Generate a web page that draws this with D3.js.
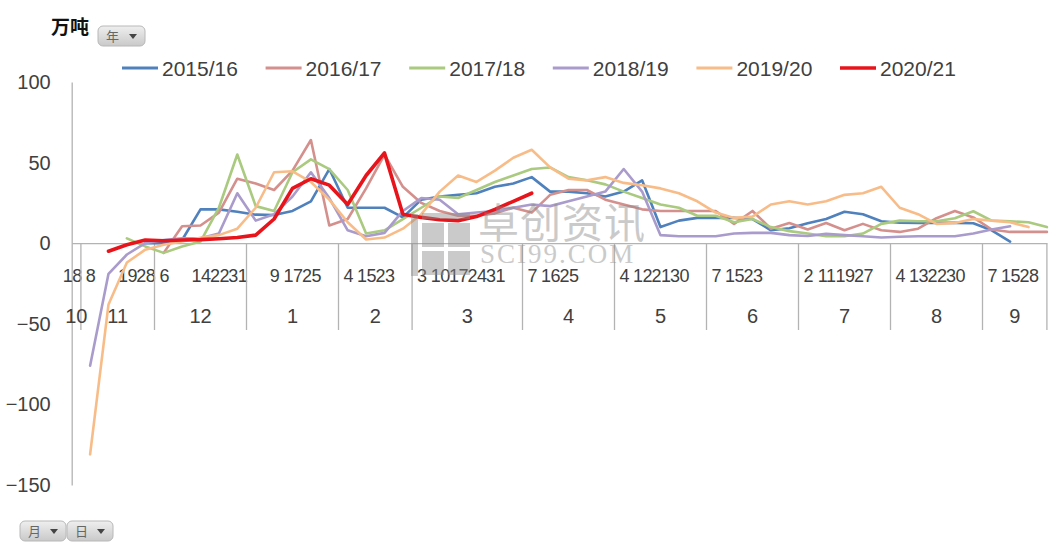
<!DOCTYPE html>
<html>
<head>
<meta charset="utf-8">
<script src="https://cdn.jsdelivr.net/npm/d3@7"></script>
<style>
body{margin:0;background:#fff;}
svg{display:block;font-family:"Liberation Sans",Arial,sans-serif;}
</style>
</head>
<body>
<div id="chart"></div>
<script>
//Set up the drawing environment here
var W = 1064, H = 543;
var plotL = 71.7, plotR = 1046.9, plotT = 82, plotB = 485;

//month groups and the day labels shown under them ('' = category with no label)
var months = ['10','11','12','1','2','3','4','5','6','7','8','9'];
var dayLabels = [
	['18'],
	['8','','19','28'],
	['6','','14','22','31'],
	['','9','17','25',''],
	['4','15','23',''],
	['3','10','17','24','31',''],
	['7','16','25','',''],
	['4','12','21','30',''],
	['7','15','23','',''],
	['2','11','19','27',''],
	['4','13','22','30',''],
	['7','15','28','']
];

var seriesNames = ['2015/16','2016/17','2017/18','2018/19','2019/20','2020/21'];
var seriesColors = ['#4f81bd','#d4908d','#a9ca7f','#a99bcb','#f8bc88','#e8141b'];
var yTicks = [-150,-100,-50,0,50,100];

//values, one per category (null = no point)
var s1516 = [null,null,null,null,0,0,2,21,21,19.5,17.7,17.5,20,26,46,22,22,22,16,27,29,30,31,35,37,41,32,32,31,29,32,39,10,14,15.7,15.7,15.7,15,8,9.3,12.4,15,19.5,18,13.6,12.7,12.6,12.6,12.6,12.4,8,1,null,null];
var s1617 = [null,null,null,null,null,-6,10.5,11,19,40,37,33,45,64,11,15,34,55,35,25,20,17,17,18.5,22,19,30,33,33,27,24,21,20,20,20,20,12,20,9,12.5,8.5,12.5,8,12,8,7,9,15.5,20,16,8.5,7,7,7];
var s1718 = [null,null,null,3,-2,-6,-2,1,22,55,23,20,44,52,46,33,6,8,15,22,29,28,33,38,42,46,47,41,39,36.5,32,28,24,22,17,17,13,15,10,7.5,6,4.3,4.3,6,12,14,13.6,13.6,15.5,19.8,14,13.6,13,10];
var s1819 = [null,-76,-19,-7,0,2,3,3,6,31,14,18,29,44,28,8,4.3,6.4,20,28,27,18,19,20,22,24,23,26,29,32,46,32,5,4.3,4.3,4.3,6,6.4,6.4,5,4.5,5.8,5,4.3,3.5,4,4.3,4.3,4.3,6,8.5,10.5,null,null];
var s1920 = [null,-131,-38,-12,-4,-1,1,3.3,5,9,22,44,44.6,38,27,13,2.3,3.5,9,18,32,42,38,45,53,58,47,40,39,41,37.4,36,34,31,26,19,15.7,16.5,24,26,24,26,30,31,35,22,18,12,12.5,15,14,13,10,null];
var s2021 = [null,null,-5,-1,2,1.5,2,2.2,2.8,3.5,5,15,34,40,36,24,42,56,18,16,14.5,14,16.5,21,26,31,null,null,null,null,null,null,null,null,null,null,null,null,null,null,null,null,null,null,null,null,null,null,null,null,null,null,null,null];
var allSeries = [s1516,s1617,s1718,s1819,s1920,s2021];

//build the category list
var cats = [];
dayLabels.forEach(function(days, mi){
	days.forEach(function(d, j){
		cats.push({key: mi+'-'+j, month: mi, day: d});
	});
});

var x = d3.scalePoint().domain(cats.map(function(c){return c.key;})).range([plotL, plotR]);
var y = d3.scaleLinear().domain([-150,100]).range([plotB, plotT]);

var svg = d3.select('#chart').append('svg')
	.attr('width', W).attr('height', H);

//y axis
var yAxis = svg.append('g')
	.attr('transform','translate('+plotL+',0)')
	.call(d3.axisLeft(y).tickValues(yTicks).tickSize(0).tickSizeOuter(0).tickPadding(21));
yAxis.select('.domain').attr('stroke','#b3b3b3').attr('stroke-width',1.3);
yAxis.selectAll('text').attr('font-size',20).attr('fill','#404040')
	.attr('font-family','"Liberation Sans",Arial,sans-serif');

//x axis with day labels
var labelOf = {};
cats.forEach(function(c){ labelOf[c.key] = c.day; });
var xAxis = svg.append('g')
	.attr('transform','translate(0,'+y(0)+')')
	.call(d3.axisBottom(x).tickSize(0).tickSizeOuter(0).tickPadding(26)
		.tickFormat(function(k){ return labelOf[k]; }));
xAxis.select('.domain').attr('stroke','#b3b3b3').attr('stroke-width',1.3);
xAxis.selectAll('text').attr('font-size',18).attr('fill','#404040')
	.attr('letter-spacing',-0.5)
	.attr('font-family','"Liberation Sans",Arial,sans-serif');

//month group dividers and month labels
var bounds = [plotL];
months.forEach(function(m, mi){
	if(mi < months.length-1){
		var lastKey = mi+'-'+(dayLabels[mi].length-1);
		var nextKey = (mi+1)+'-0';
		bounds.push((x(lastKey)+x(nextKey))/2);
	}
});
bounds.push(plotR);

svg.selectAll('.divider')
	.data(bounds.slice(1))
	.enter()
	.append('line')
	.attr('class','divider')
	.attr('x1',function(d){return d;}).attr('x2',function(d){return d;})
	.attr('y1',y(0)).attr('y2',330)
	.attr('stroke','#b3b3b3').attr('stroke-width',1.3);

svg.selectAll('.month')
	.data(months)
	.enter()
	.append('text')
	.attr('class','month')
	.attr('x',function(d,i){return (bounds[i]+bounds[i+1])/2;})
	.attr('y',323)
	.attr('text-anchor','middle')
	.attr('font-size',20)
	.attr('fill','#404040')
	.text(function(d){return d;});

//lines
var line = d3.line()
	.x(function(d){return x(d.key);})
	.y(function(d){return y(d.v);});

allSeries.forEach(function(vals, si){
	var pts = cats.map(function(c,i){ return {key:c.key, v:vals[i]}; })
		.filter(function(d){ return d.v != null; });
	svg.append('path')
		.datum(pts)
		.attr('fill','none')
		.attr('stroke',seriesColors[si])
		.attr('stroke-width', si == 5 ? 3.6 : 2.6)
		.attr('stroke-linejoin','round')
		.attr('stroke-linecap','round')
		.attr('d',line);
});

//watermark
var wm = svg.append('g').attr('opacity',0.45).attr('fill','#8c8c8c');
wm.append('rect').attr('x',411).attr('y',214).attr('width',7).attr('height',62);
wm.append('rect').attr('x',422).attr('y',213).attr('width',48).attr('height',6);
wm.append('rect').attr('x',422).attr('y',223).attr('width',22).attr('height',24);
wm.append('rect').attr('x',448).attr('y',223).attr('width',22).attr('height',24);
wm.append('rect').attr('x',422).attr('y',251).attr('width',22).attr('height',24);
wm.append('rect').attr('x',448).attr('y',251).attr('width',22).attr('height',24);
wm.append('text').attr('x',478).attr('y',238)
	.attr('font-family','"Noto Sans CJK SC",sans-serif').attr('font-size',41)
	.attr('letter-spacing',1).text('卓创资讯');
wm.append('text').attr('x',480).attr('y',263)
	.attr('font-family','"Liberation Serif","DejaVu Serif",serif').attr('font-size',27)
	.attr('letter-spacing',2).text('SCI99.COM');

//legend
var legend = svg.selectAll('.legend')
	.data(seriesNames)
	.enter()
	.append('g')
	.attr('class','legend')
	.attr('transform',function(d,i){return 'translate('+(122+i*143.6)+',68)';});
legend.append('line')
	.attr('x1',0).attr('x2',36).attr('y1',0).attr('y2',0)
	.attr('stroke',function(d,i){return seriesColors[i];})
	.attr('stroke-width',function(d,i){return i==5?3.6:2.8;});
legend.append('text')
	.attr('x',40).attr('y',7.5)
	.attr('font-size',21).attr('fill','#404040')
	.text(function(d){return d;});

//title
svg.append('text').attr('x',51).attr('y',34)
	.attr('font-family','"Noto Sans CJK SC",sans-serif')
	.attr('font-size',19).attr('font-weight','bold').attr('fill','#111')
	.text('万吨');

//pivot field buttons
var grad = svg.append('defs').append('linearGradient')
	.attr('id','btn').attr('x1',0).attr('x2',0).attr('y1',0).attr('y2',1);
grad.append('stop').attr('offset','0%').attr('stop-color','#efefef');
grad.append('stop').attr('offset','100%').attr('stop-color','#c9c9c9');

var buttons = [{t:'年',x:98,y:26,w:47},{t:'月',x:20,y:521,w:46},{t:'日',x:67,y:521,w:46}];
buttons.forEach(function(b){
	var g = svg.append('g').attr('transform','translate('+b.x+','+b.y+')');
	g.append('rect').attr('width',b.w).attr('height',20).attr('rx',5)
		.attr('fill','url(#btn)').attr('stroke','#b8b8b8');
	g.append('text').attr('x',8).attr('y',15)
		.attr('font-family','"Noto Sans CJK SC",sans-serif')
		.attr('font-size',13).attr('fill','#666').text(b.t);
	g.append('path').attr('d','M'+(b.w-16)+',8 l8,0 l-4,5 z').attr('fill','#444');
});
</script>
</body>
</html>
